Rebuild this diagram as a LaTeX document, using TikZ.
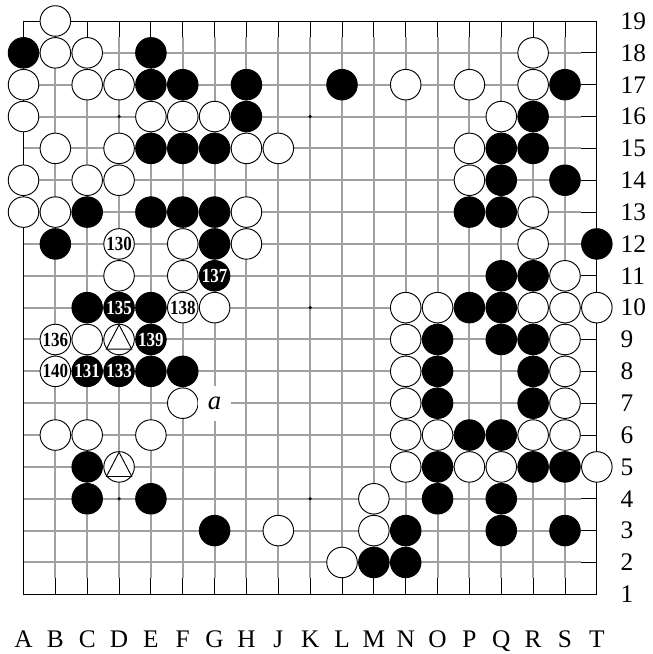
\documentclass[tikz,border=0pt]{standalone}
\usepackage{fontspec}
\setmainfont{Liberation Serif}
\newfontfamily\movefont[FakeStretch=0.85]{Liberation Serif}
\usepackage{tikz}
\definecolor{gridgray}{RGB}{160,160,160}

\begin{document}
\begin{tikzpicture}[
        x=23.89pt, y=23.89pt,
        gridline/.style={draw=gridgray, line width=1.5pt},
        edgeline/.style={draw=black, line width=0.7pt},
        stone/.style={circle, draw=black, line width=0.7pt, minimum size=22.9pt, inner sep=0pt, font=\movefont\bfseries\fontsize{15}{15}\selectfont},
        bstone/.style={stone, fill=black, text=white},
        wstone/.style={stone, fill=white, text=black},
        marktri/.style={draw=black, line width=0.7pt, line join=miter},
        coordlbl/.style={font=\fontsize{19}{20}\selectfont, inner sep=0pt},
        pointlbl/.style={fill=white, inner sep=0pt, minimum width=25pt, minimum height=26pt, font=\fontsize{20}{20}\selectfont\itshape}
    ]
        \useasboundingbox (0.262,-0.874) rectangle (20.733,19.659);

        % Board lines
        \foreach \c in {2,...,18} {
            \draw[gridline] (\c,1.5) -- (\c,18.5);
            \draw[edgeline] (\c,18.5) -- (\c,19);
            \draw[edgeline] (\c,1) -- (\c,1.5);
        }
        \foreach \r in {2,...,18} {
            \draw[gridline] (1,\r) -- (18.5,\r);
            \draw[edgeline] (18.5,\r) -- (19,\r);
        }
        \draw[edgeline] (1,1) rectangle (19,19);
        \foreach \c in {4,10,16}
            \foreach \r in {4,10,16}
                \fill (\c,\r) circle (1.3pt);

        % Black stones
        \foreach \c/\r in {1/18, 5/18, 5/17, 6/17, 8/17, 11/17, 18/17, 8/16, 17/16,
                5/15, 6/15, 7/15, 16/15, 17/15, 16/14, 18/14,
                3/13, 5/13, 6/13, 7/13, 15/13, 16/13, 2/12, 7/12, 19/12,
                16/11, 17/11, 3/10, 5/10, 15/10, 16/10, 14/9, 16/9, 17/9,
                5/8, 6/8, 14/8, 17/8, 14/7, 17/7, 15/6, 16/6,
                3/5, 14/5, 17/5, 18/5, 3/4, 5/4, 14/4, 16/4,
                7/3, 13/3, 16/3, 18/3, 12/2, 13/2}
            \node[bstone] (b\c-\r) at (\c,\r) {};

        % White stones
        \foreach \c/\r in {2/19, 2/18, 3/18, 17/18, 1/17, 3/17, 4/17, 13/17, 15/17, 17/17,
                1/16, 5/16, 6/16, 7/16, 16/16, 2/15, 4/15, 8/15, 9/15, 15/15,
                1/14, 3/14, 4/14, 15/14, 1/13, 2/13, 8/13, 17/13,
                6/12, 8/12, 17/12, 4/11, 6/11, 18/11,
                7/10, 13/10, 14/10, 17/10, 18/10, 19/10, 3/9, 13/9, 18/9,
                13/8, 18/8, 6/7, 13/7, 18/7,
                2/6, 3/6, 5/6, 13/6, 14/6, 17/6, 18/6,
                13/5, 15/5, 16/5, 19/5, 12/4, 9/3, 12/3, 11/2}
            \node[wstone] (w\c-\r) at (\c,\r) {};

        % Numbered moves
        \node[wstone] (m130) at (4,12) {130};
        \node[bstone] (m131) at (3,8)  {131};
        \node[bstone] (m133) at (4,8)  {133};
        \node[bstone] (m135) at (4,10) {135};
        \node[wstone] (m136) at (2,9)  {136};
        \node[bstone] (m137) at (7,11) {137};
        \node[wstone] (m138) at (6,10) {138};
        \node[bstone] (m139) at (5,9)  {139};
        \node[wstone] (m140) at (2,8)  {140};

        % Marked stones
        \node[wstone] (tD9) at (4,9) {};
        \node[wstone] (tD5) at (4,5) {};
        \draw[marktri] (tD9) ++(0,11pt) -- ++(-9.5pt,-18.2pt) -- ++(19pt,0) -- cycle;
        \draw[marktri] (tD5) ++(0,11pt) -- ++(-9.5pt,-18.2pt) -- ++(19pt,0) -- cycle;

        \node[pointlbl] (pa) at (7,7) {a};

        % Coordinates
        \foreach \l [count=\c] in {A,B,C,D,E,F,G,H,J,K,L,M,N,O,P,Q,R,S,T}
            \node[coordlbl, anchor=base] (col\l) at (\c,-0.664) {\l};
        \foreach \r in {1,...,19}
            \node[coordlbl, anchor=west] (row\r) at (19.74,\r) {\r};
    \end{tikzpicture}
\end{document}
